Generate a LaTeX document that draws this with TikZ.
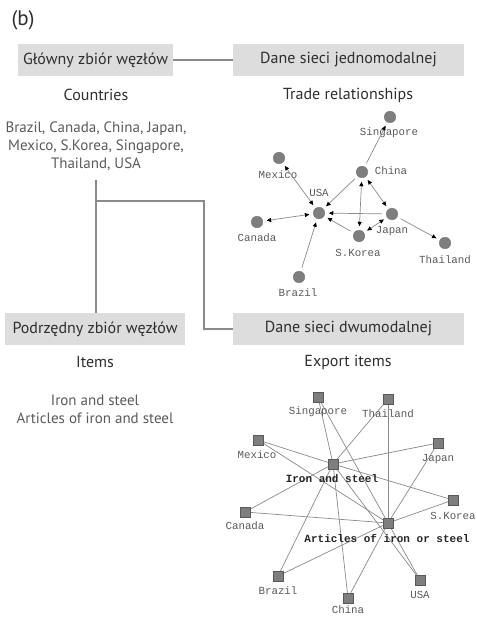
\documentclass[tikz,border=0pt]{standalone}
\usepackage{fontspec}
\setmainfont{PT Sans}
\setmonofont{Liberation Mono}
\usepackage{xcolor}
\usepackage{tikz}
\usetikzlibrary{arrows.meta,positioning,backgrounds}
\definecolor{boxgray}{HTML}{DDDDDD}
\definecolor{txtdark}{HTML}{2E2E2E}
\definecolor{txtgray}{HTML}{5A5A5A}
\definecolor{linegray}{HTML}{8A8A8A}
\definecolor{dotgray}{HTML}{7E7E7E}

\begin{document}
\begin{tikzpicture}[x=1pt, y=-1pt,
    hdrbox/.style={rectangle, fill=boxgray, text=txtdark, minimum height=32pt, inner sep=0pt, font=\fontsize{16}{19}\selectfont},
    title/.style={text=txtdark, font=\fontsize{16}{19}\selectfont},
    settext/.style={text=txtgray, align=center, font=\fontsize{15}{18}\selectfont},
    cty/.style={circle, fill=dotgray, draw=black!55, line width=0.4pt, minimum size=11.5pt, inner sep=0pt, outer sep=4pt},
    sq/.style={rectangle, fill=dotgray, draw=black!65, line width=0.5pt, minimum size=9.5pt, inner sep=0pt},
    nlbl/.style={text=txtgray, font=\ttfamily\fontsize{10.8}{12}\selectfont, inner sep=1pt},
    blbl/.style={text=black!85, font=\ttfamily\bfseries\fontsize{11}{12}\selectfont, inner sep=1pt},
    link/.style={draw=linegray, line width=1.3pt},
    tie/.style={draw=linegray, line width=0.7pt},
    flow/.style={draw=linegray, line width=0.7pt, arrows={-Triangle[length=4.5pt, width=4pt, black]}},
    flow2/.style={draw=linegray, line width=0.7pt, arrows={Triangle[length=4.5pt, width=4pt, black]-Triangle[length=4.5pt, width=4pt, black]}}]
    \useasboundingbox (0,0) rectangle (476,617);

    \node [text=txtdark, font=\fontsize{21}{24}\selectfont] (tag) at (23,20) {(b)};

    % boxes
    \node [hdrbox, minimum width=155pt] (main) at (95.5,60) {Główny zbiór węzłów};
    \node [hdrbox, minimum width=231pt] (uni) at (348.5,60) {Dane sieci jednomodalnej};
    \node [hdrbox, minimum width=180pt] (sub) at (95,329) {Podrzędny zbiór węzłów};
    \node [hdrbox, minimum width=231pt] (bi) at (348.5,329) {Dane sieci dwumodalnej};

    \node [title] (countries) at (96,95) {Countries};
    \node [settext] (clist) at (96,146) {Brazil, Canada, China, Japan,\\Mexico, S.Korea, Singapore,\\Thailand, USA};
    \node [title] (trade) at (348,95) {Trade relationships};
    \node [title] (items) at (95,362) {Items};
    \node [settext] (ilist) at (95,409) {Iron and steel\\Articles of iron and steel};
    \node [title] (export) at (348,362) {Export items};

    \coordinate (vtop) at (96,180);
    \coordinate (split) at (96,201);
    \coordinate (bend) at (204,201);
    \draw [link] (main) -- (uni);
    \draw [link] (vtop) -- (vtop |- sub.north);
    \draw [link] (split) -- (bend) |- (bi.west);

    % trade network
    \node [cty] (sgp) at (390,117) {};
    \node [cty] (chn) at (362,172) {};
    \node [cty] (mex) at (279,158) {};
    \node [cty] (usa) at (319,213) {};
    \node [cty] (can) at (257,222) {};
    \node [cty] (jpn) at (392,214) {};
    \node [cty] (kor) at (359,236) {};
    \node [cty] (tha) at (445,243) {};
    \node [cty] (bra) at (299,277) {};
    \node [nlbl] (sgpL) at (389,133) {Singapore};
    \node [nlbl] (chnL) at (391,171) {China};
    \node [nlbl] (mexL) at (278,175) {Mexico};
    \node [nlbl] (usaL) at (319,193) {USA};
    \node [nlbl] (canL) at (257,238) {Canada};
    \node [nlbl] (jpnL) at (392,231) {Japan};
    \node [nlbl] (korL) at (358,253) {S.Korea};
    \node [nlbl] (thaL) at (445,260) {Thailand};
    \node [nlbl] (braL) at (298,293) {Brazil};

    \draw [flow2] (mex) -- (usa);
    \draw [flow2] (can) -- (usa);
    \draw [flow2] (chn) -- (kor);
    \draw [flow2] (chn) -- (jpn);
    \draw [flow2] (kor) -- (jpn);
    \draw [flow] (chn) -- (usa);
    \draw [flow] (chn) -- (sgp);
    \draw [flow] (jpn) -- (usa);
    \draw [flow] (kor) -- (usa);
    \draw [flow] (jpn) -- (tha);
    \draw [flow] (bra) -- (usa);

    % export network
    \node [sq] (is) at (333,464) {};
    \node [sq] (aois) at (388,523) {};
    \node [sq] (sgp2) at (318,397) {};
    \node [sq] (tha2) at (388,399) {};
    \node [sq] (mex2) at (258,440) {};
    \node [sq] (jpn2) at (438,443) {};
    \node [sq] (kor2) at (453,500) {};
    \node [sq] (can2) at (245,512) {};
    \node [sq] (bra2) at (278,576) {};
    \node [sq] (usa2) at (420,580) {};
    \node [sq] (chn2) at (348,598) {};
    \node [blbl] (isL) at (332,479) {Iron and steel};
    \node [blbl] (aoisL) at (387,538) {Articles of iron or steel};
    \node [nlbl] (sgp2L) at (318,412) {Singapore};
    \node [nlbl] (tha2L) at (388,414) {Thailand};
    \node [nlbl] (mex2L) at (257,455) {Mexico};
    \node [nlbl] (jpn2L) at (438,459) {Japan};
    \node [nlbl] (kor2L) at (453,516) {S.Korea};
    \node [nlbl] (can2L) at (245,526) {Canada};
    \node [nlbl] (bra2L) at (278,591) {Brazil};
    \node [nlbl] (usa2L) at (420,595) {USA};
    \node [nlbl] (chn2L) at (348,610) {China};

    \begin{scope}[on background layer]
        \foreach \c in {sgp2,tha2,mex2,jpn2,kor2,can2,bra2,usa2,chn2} {
            \draw [tie] (is.center) -- (\c.center);
            \draw [tie] (aois.center) -- (\c.center);
        }
    \end{scope}
\end{tikzpicture}
\end{document}
